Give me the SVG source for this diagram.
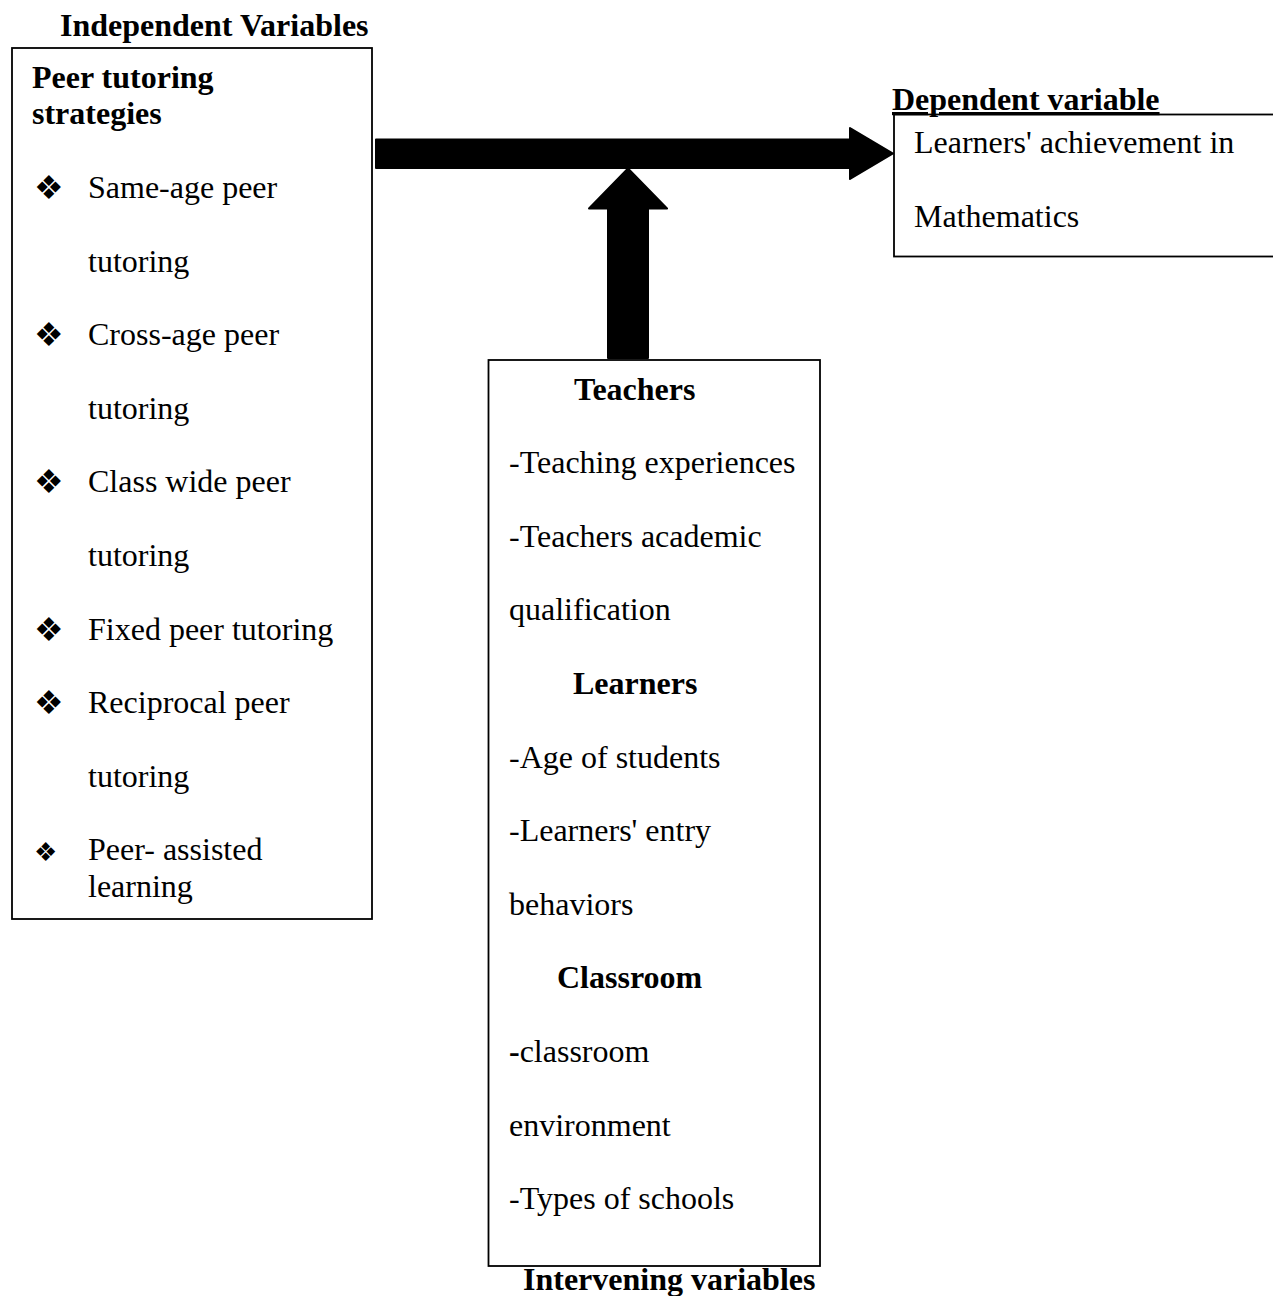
<svg xmlns="http://www.w3.org/2000/svg" width="1273" height="1296" viewBox="0 0 1273 1296">
<style>
.box{fill:#fff;stroke:#000;stroke-width:1.8}
.t{font-family:"Liberation Serif","Times New Roman",serif;font-size:32px;fill:#000}
.b{font-weight:bold}
.bul{font-family:"DejaVu Sans",sans-serif;font-size:33px;fill:#000}
.arrow{fill:#000;stroke:#000;stroke-width:2;stroke-linejoin:round}
</style>
<rect width="1273" height="1296" fill="#fff"/>
<g id="connectors">
<path class="arrow" d="M376,139.5 H850 V128 L893,153.5 L850,179 V168 H376 Z"/>
<path class="arrow" d="M608,358 V208.5 H589 L628,168.5 L667,208.5 H648 V358 Z"/>
</g>
<g id="independent">
<text class="t b" x="60" y="36">Independent Variables</text>
<rect class="box" x="12" y="48" width="360" height="871"/>
<text class="t b" x="32" y="87.5">Peer tutoring</text>
<text class="t b" x="32" y="124">strategies</text>
<text class="bul" x="34" y="199">❖</text>
<text class="t" x="88" y="198">Same-age peer</text>
<text class="t" x="88" y="271.6">tutoring</text>
<text class="bul" x="34" y="346.2">❖</text>
<text class="t" x="88" y="345.2">Cross-age peer</text>
<text class="t" x="88" y="418.8">tutoring</text>
<text class="bul" x="34" y="493.4">❖</text>
<text class="t" x="88" y="492.4">Class wide peer</text>
<text class="t" x="88" y="566">tutoring</text>
<text class="bul" x="34" y="640.6">❖</text>
<text class="t" x="88" y="639.6">Fixed peer tutoring</text>
<text class="bul" x="34" y="714.2">❖</text>
<text class="t" x="88" y="713.2">Reciprocal peer</text>
<text class="t" x="88" y="786.8">tutoring</text>
<text class="bul" x="34" y="860.5" style="font-size:26px">❖</text>
<text class="t" x="88" y="860.4">Peer- assisted</text>
<text class="t" x="88" y="897">learning</text>
</g>
<g id="dependent">
<rect class="box" x="894" y="114.5" width="380" height="142"/>
<text class="t b" x="892" y="110" text-decoration="underline">Dependent variable</text>
<text class="t" x="914" y="152.7">Learners' achievement in</text>
<text class="t" x="914" y="226.5">Mathematics</text>
</g>
<g id="intervening">
<rect class="box" x="488.5" y="360" width="331.5" height="906"/>
<text class="t b" x="574" y="399.6">Teachers</text>
<text class="t" x="509" y="473.2">-Teaching experiences</text>
<text class="t" x="509" y="546.8">-Teachers academic</text>
<text class="t" x="509" y="620.4">qualification</text>
<text class="t b" x="573" y="694">Learners</text>
<text class="t" x="509" y="767.6">-Age of students</text>
<text class="t" x="509" y="841.2">-Learners' entry</text>
<text class="t" x="509" y="914.8">behaviors</text>
<text class="t b" x="557" y="988.4">Classroom</text>
<text class="t" x="509" y="1062"><tspan class="b">-</tspan>classroom</text>
<text class="t" x="509" y="1135.6">environment</text>
<text class="t" x="509" y="1209.2">-Types of schools</text>
<text class="t b" x="523" y="1290">Intervening variables</text>
</g>
</svg>
